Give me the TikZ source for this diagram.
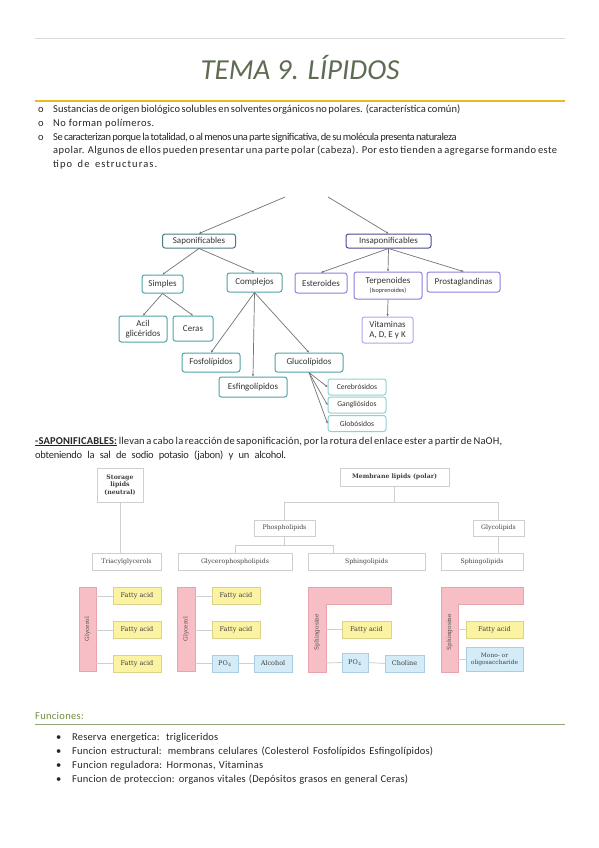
\documentclass[tikz,border=0pt]{standalone}
\usepackage{fontspec}
\newfontfamily\calib{Carlito}
\newfontfamily\lipf{DejaVu Serif}
\usetikzlibrary{arrows.meta}
\newcommand\fitline[3]{{\addfontfeatures{LetterSpace=#1}\makebox[#2][s]{#3}}}
\definecolor{titlec}{HTML}{5E6C53}
\definecolor{goldc}{HTML}{E8B923}
\definecolor{funcc}{HTML}{6F8F3F}
\definecolor{funcl}{HTML}{90A878}
\definecolor{tealdk}{HTML}{4A7B82}
\definecolor{tealm}{HTML}{4EA3A8}
\definecolor{teall}{HTML}{8FD0D4}
\definecolor{purpdk}{HTML}{4A4A90}
\definecolor{purpm}{HTML}{8A82E0}
\definecolor{purpl}{HTML}{ADA6F0}
\definecolor{pinkf}{HTML}{F8BEC5}
\definecolor{pinkd}{HTML}{E9A3AC}
\definecolor{yelf}{HTML}{FBF3A2}
\definecolor{yeld}{HTML}{DCD38A}
\definecolor{bluef}{HTML}{D3ECF8}
\definecolor{blued}{HTML}{A9CDE2}
\definecolor{boxg}{HTML}{CFCFCF}
\begin{document}
\begin{tikzpicture}[x=1pt,y=-1pt,
  bodytxt/.style={font=\calib\fontsize{10.5}{13.6}\selectfont, anchor=base west, inner sep=0pt, text=black!85},
  mapbox/.style={draw, rounded corners=2.5pt, line width=1pt, fill=white, align=center, inner sep=1pt,
     font=\calib\fontsize{9}{10}\selectfont, text=black!80},
  tbox/.style={mapbox, draw=tealm},
  pbox/.style={mapbox, draw=purpm},
  arr/.style={draw=black!55, line width=0.7pt, -{Stealth[length=2.6pt,width=2.2pt]}},
  lbox/.style={draw=boxg, line width=0.6pt, fill=white, inner sep=1pt, align=center,
     font=\lipf\fontsize{6.2}{7.4}\selectfont, text=black!75},
  lconn/.style={draw=boxg, line width=0.8pt},
  fa/.style={draw=yeld, fill=yelf, line width=0.5pt, minimum width=48pt, minimum height=17pt, inner sep=0pt,
     font=\lipf\fontsize{6.5}{7.2}\selectfont, text=black!75},
  po/.style={draw=blued, fill=bluef, line width=0.5pt, minimum height=17pt, inner sep=0pt,
     font=\lipf\fontsize{6.5}{7.2}\selectfont, text=black!75},
  bar/.style={draw=pinkd, fill=pinkf, line width=0.5pt},
  bartxt/.style={rotate=90, font=\lipf\fontsize{5.8}{6.5}\selectfont, text=black!70, inner sep=0pt},
  smallbox/.style={mapbox, draw=teall, minimum width=58pt, minimum height=16pt, font=\calib\fontsize{7.6}{8.5}\selectfont}
]
\useasboundingbox[fill=white] (0,0) rectangle (599,848);

% header lines and title
\draw[draw=black!15, line width=0.8pt] (35,38) -- (565,38);
\node[font=\calib\itshape\fontsize{29}{32}\selectfont, text=titlec, inner sep=0pt] (title) at (300,68) {TEMA 9. LÍPIDOS};
\draw[draw=goldc, line width=2.6pt] (35,101) -- (565,101);

% bullets
\node[bodytxt] (o1) at (38,113) {o};
\node[bodytxt] (o2) at (38,126.6) {o};
\node[bodytxt] (o3) at (38,140.2) {o};
\node[bodytxt] (b1) at (53,113) {\fitline{0.5}{400pt}{Sustancias de origen biológico solubles en solventes orgánicos no polares. (característica común)}};
\node[bodytxt] (b2) at (53,126.6) {\fitline{4}{101pt}{No forman polímeros.}};
\node[bodytxt] (b3a) at (53,140.2) {\fitline{-4}{395pt}{Se caracterizan porque la totalidad, o al menos una parte significativa, de su molécula presenta naturaleza}};
\node[bodytxt] (b3b) at (53,153.8) {\fitline{4}{504pt}{apolar. Algunos de ellos pueden presentar una parte polar (cabeza). Por esto tienden a agregarse formando este}};
\node[bodytxt] (b3c) at (53,167.4) {\fitline{10}{104pt}{tipo de estructuras.}};

% concept map
\coordinate (topl) at (285,197);
\coordinate (topr) at (328,197);
\node[mapbox, draw=tealdk, minimum width=73pt, minimum height=14pt] (sap) at (199,241) {Saponificables};
\node[mapbox, draw=purpdk, minimum width=85pt, minimum height=14pt] (insap) at (388.5,241) {Insaponificables};
\node[tbox, minimum width=41pt, minimum height=18pt] (simp) at (162.5,284) {Simples};
\node[tbox, minimum width=55pt, minimum height=19pt] (comp) at (254.5,282.5) {Complejos};
\node[pbox, minimum width=52pt, minimum height=20pt] (est) at (321,283) {Esteroides};
\node[pbox, minimum width=68pt, minimum height=27pt] (terp) at (388,285.5) {Terpenoides\\[-1.5pt]{\fontsize{6.3}{7}\selectfont (Isoprenoides)}};
\node[pbox, minimum width=73pt, minimum height=20pt] (prost) at (463.5,282) {Prostaglandinas};
\node[mapbox, draw=purpl, minimum width=51pt, minimum height=26pt] (vit) at (387.5,330) {Vitaminas\\A, D, E y K};
\node[tbox, minimum width=48pt, minimum height=26pt] (acil) at (143,329) {Acil\\glicéridos};
\node[tbox, minimum width=40pt, minimum height=25pt] (ceras) at (193,328.5) {Ceras};
\node[tbox, minimum width=58pt, minimum height=19pt] (fos) at (211,362.5) {Fosfolípidos};
\node[tbox, minimum width=68pt, minimum height=20pt] (esf) at (253,387) {Esfingolípidos};
\node[tbox, minimum width=68pt, minimum height=19pt] (glu) at (309,362.5) {Glucolípidos};
\node[smallbox] (cer) at (357,387) {Cerebrósidos};
\node[smallbox] (gan) at (357,405) {Gangliósidos};
\node[smallbox] (glo) at (357,423.5) {Globósidos};

\draw[arr] (topl) -- (sap.north);
\draw[arr] (topr) -- (insap.north);
\draw[arr] (sap.south) -- (simp.north);
\draw[arr] (sap.south) -- (comp.north);
\draw[arr] (insap.south) -- (est.north);
\draw[arr] (insap.south) -- (terp.north);
\draw[arr] (insap.south) -- (prost.north);
\draw[arr] (terp.south) -- (vit.north);
\draw[arr] (simp.south) -- (acil.north);
\draw[arr] (simp.south) -- (ceras.north);
\draw[arr] (comp.south) -- (fos.north);
\draw[arr] (comp.south) -- (esf.north);
\draw[arr] (comp.south) -- (glu.north);
\draw[arr] (glu.south) -- (cer.west);
\draw[arr] (glu.south) -- (gan.west);
\draw[arr] (glu.south) -- (glo.west);

% saponificables text
\node[bodytxt] (sapt1) at (35,444) {\fitline{1.5}{459pt}{\textbf{\underline{-SAPONIFICABLES:}} llevan a cabo la reacción de saponificación, por la rotura del enlace ester a partir de NaOH,}};
\node[bodytxt] (sapt2) at (35,458) {\fitline{-2.5}{251pt}{obteniendo la sal de sodio potasio (jabon) y un alcohol.}};

% lipid classification
\node[lbox, minimum width=46pt, minimum height=34pt, font=\lipf\bfseries\fontsize{6.2}{7.4}\selectfont] (stor) at (120,485) {Storage\\lipids\\(neutral)};
\node[lbox, minimum width=109pt, minimum height=18pt, font=\lipf\bfseries\fontsize{6.2}{7.4}\selectfont] (mem) at (394.5,477) {Membrane lipids (polar)};
\node[lbox, minimum width=61pt, minimum height=16pt] (phos) at (284.5,528) {Phospholipids};
\node[lbox, minimum width=51pt, minimum height=16pt] (glyc) at (498.5,528) {Glycolipids};
\node[lbox, minimum width=69pt, minimum height=17pt] (tri) at (126.5,561.5) {Triacylglycerols};
\node[lbox, minimum width=114pt, minimum height=17pt] (gp) at (235,561.5) {Glycerophospholipids};
\node[lbox, minimum width=117pt, minimum height=17pt] (sph1) at (366.5,561.5) {Sphingolipids};
\node[lbox, minimum width=82pt, minimum height=17pt] (sph2) at (482,561.5) {Sphingolipids};

\coordinate (j1) at (284.5,502);
\coordinate (j2) at (498.5,502);
\coordinate (k1) at (235,545);
\coordinate (k2) at (333,545);
\coordinate (s1) at (120,502);
\coordinate (s2) at (120,553);
\draw[lconn] (s1) -- (s2);
\draw[lconn] (mem.south) -- (mem.south |- j1);
\draw[lconn] (phos.north) -- (j1) -- (j2) -- (glyc.north);
\draw[lconn] (phos.south) -- (phos.south |- k1);
\draw[lconn] (gp.north) -- (k1) -- (k2) -- (k2 |- sph1.north);
\draw[lconn] (glyc.south) -- (glyc.south |- sph2.north);

% block 1: triacylglycerol
\fill[bar] (79,587) rectangle (96,671);
\node[bartxt] (gl1) at (87.5,629) {Glycerol};
\node[fa] (fa11) at (137,596) {Fatty acid};
\node[fa] (fa12) at (137,630) {Fatty acid};
\node[fa] (fa13) at (137,663.5) {Fatty acid};
\draw[lconn] (96,596) -- (fa11.west);
\draw[lconn] (96,630) -- (fa12.west);
\draw[lconn] (96,663.5) -- (fa13.west);

% block 2: glycerophospholipid
\fill[bar] (177,587) rectangle (195,671);
\node[bartxt] (gl2) at (186,629) {Glycerol};
\node[fa] (fa21) at (236,596) {Fatty acid};
\node[fa] (fa22) at (236,630) {Fatty acid};
\node[po, minimum width=26pt] (po2) at (225,663.5) {PO$_4$};
\node[po, minimum width=38pt] (alc) at (273,663.5) {Alcohol};
\draw[lconn] (195,596) -- (fa21.west);
\draw[lconn] (195,630) -- (fa22.west);
\draw[lconn] (195,663.5) -- (po2.west);
\draw[lconn] (po2.east) -- (alc.west);

% block 3: sphingomyelin
\filldraw[bar] (308,587) -- (391,587) -- (391,604) -- (326,604) -- (326,672) -- (308,672) -- cycle;
\node[bartxt] (sg1) at (317,632) {Sphingosine};
\node[fa, minimum width=49pt] (fa31) at (366.5,629.5) {Fatty acid};
\node[po, minimum width=26pt, minimum height=19pt] (po3) at (355,662.5) {PO$_4$};
\node[po, minimum width=39pt] (chol) at (404.5,663.5) {Choline};
\draw[lconn] (326,629.5) -- (fa31.west);
\draw[lconn] (326,663) -- (po3.west);
\draw[lconn] (po3.east) -- (chol.west);

% block 4: glycosphingolipid
\filldraw[bar] (441,587) -- (523,587) -- (523,604) -- (458,604) -- (458,672) -- (441,672) -- cycle;
\node[bartxt] (sg2) at (449.5,632) {Sphingosine};
\node[fa, minimum width=57pt] (fa41) at (494.5,629.5) {Fatty acid};
\node[po, minimum width=57pt, minimum height=24pt, align=center, font=\lipf\fontsize{5.9}{7}\selectfont] (mono) at (494.5,659) {Mono- or\\oligosaccharide};
\draw[lconn] (458,629.5) -- (fa41.west);
\draw[lconn] (458,659) -- (mono.west);

% funciones
\node[font=\calib\fontsize{10.5}{12}\selectfont, text=funcc, anchor=base west, inner sep=0pt] (func) at (35,719) {\fitline{3}{56pt}{Funciones:}};
\draw[draw=funcl, line width=1.2pt] (35,724.5) -- (565,724.5);
\node[bodytxt] (d1) at (56,740) {•};
\node[bodytxt] (d2) at (56,754.2) {•};
\node[bodytxt] (d3) at (56,768.4) {•};
\node[bodytxt] (d4) at (56,782.6) {•};
\node[bodytxt] (f1) at (72,740) {\fitline{1.5}{146pt}{Reserva energetica: trigliceridos}};
\node[bodytxt] (f2) at (72,754.2) {\fitline{1.5}{361pt}{Funcion estructural: membrans celulares (Colesterol Fosfolípidos Esfingolípidos)}};
\node[bodytxt] (f3) at (72,768.4) {\fitline{2.5}{191pt}{Funcion reguladora: Hormonas, Vitaminas}};
\node[bodytxt] (f4) at (72,782.6) {\fitline{2}{336pt}{Funcion de proteccion: organos vitales (Depósitos grasos en general Ceras)}};
\end{tikzpicture}
\end{document}
